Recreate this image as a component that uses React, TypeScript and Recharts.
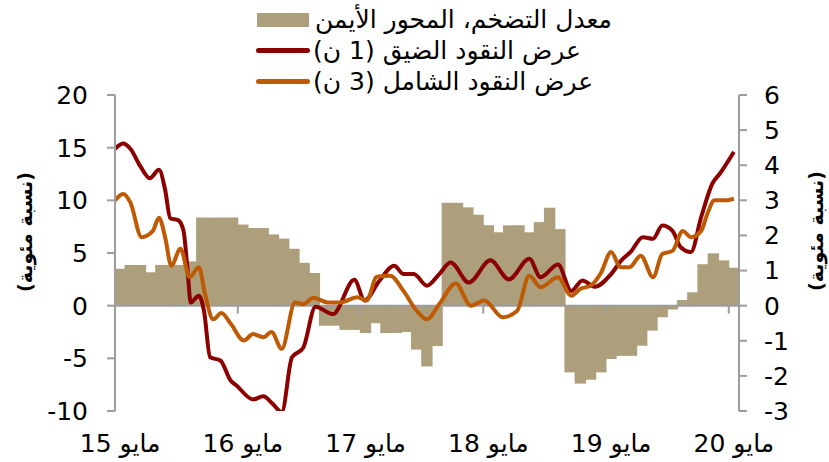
import React from 'react';
import { ComposedChart, Bar, Line, XAxis, YAxis, ReferenceLine } from 'recharts';

// Monthly categories, May 2015 .. May 2020
const months = [
  '2015-05', '2015-06', '2015-07', '2015-08', '2015-09', '2015-10', '2015-11', '2015-12',
  '2016-01', '2016-02', '2016-03', '2016-04', '2016-05', '2016-06', '2016-07', '2016-08', '2016-09', '2016-10', '2016-11', '2016-12',
  '2017-01', '2017-02', '2017-03', '2017-04', '2017-05', '2017-06', '2017-07', '2017-08', '2017-09', '2017-10', '2017-11', '2017-12',
  '2018-01', '2018-02', '2018-03', '2018-04', '2018-05', '2018-06', '2018-07', '2018-08', '2018-09', '2018-10', '2018-11', '2018-12',
  '2019-01', '2019-02', '2019-03', '2019-04', '2019-05', '2019-06', '2019-07', '2019-08', '2019-09', '2019-10', '2019-11', '2019-12',
  '2020-01', '2020-02', '2020-03', '2020-04', '2020-05',
];

// Inflation rate (right axis), one value per month
const inflation = [
  1.05, 1.16, 1.16, 0.95, 1.16, 1.16, 1.16, 1.26,
  2.51, 2.51, 2.51, 2.51, 2.31, 2.21, 2.21, 2.03, 1.91, 1.62, 1.22, 0.93,
  -0.57, -0.57, -0.69, -0.69, -0.78, -0.5, -0.78, -0.78, -0.75, -1.25, -1.73, -1.15,
  2.93, 2.93, 2.8, 2.59, 2.29, 2.09, 2.29, 2.29, 2.09, 2.38, 2.79, 2.18,
  -1.9, -2.22, -2.11, -1.9, -1.52, -1.43, -1.43, -1.14, -0.71, -0.33, -0.11, 0.16,
  0.38, 1.18, 1.49, 1.29, 1.08,
];

// Narrow money M1 (left axis): position in months since May 2015, value
const narrowMonths = [
  0, 0.8, 1.5, 2.5, 3.4, 4.3, 4.9, 5.4, 6.2, 6.7, 7.1, 7.4, 8.2, 8.7, 9.3, 10.3, 11.3, 11.9, 13.5, 14.5,
  15.4, 16.3, 17.3, 18.4, 19.6, 21.3, 23.4, 24.4, 25.8, 27.3, 28.2, 29.2, 30.5, 31.7, 32.8, 34.6, 36.7, 38.5,
  40.5, 41.6, 43.3, 44.6, 45.7, 46.9, 48.5, 49.5, 50.4, 51.6, 52.6, 53.5, 54.5, 55.3, 56.3, 57.3, 58.4, 59.1, 60.5,
];
const narrowValues = [
  14.9, 15.4, 14.9, 13.2, 12.1, 12.9, 11.0, 8.3, 8.1, 7.1, 3.3, 0.3, 0.95, -0.5, -4.9, -5.2, -7.1, -7.6, -8.9, -8.6,
  -9.3, -10.1, -4.9, -4.0, -0.1, -0.8, 2.45, 0.5, 2.3, 3.8, 3.0, 3.0, 1.9, 3.0, 4.1, 2.2, 4.3, 2.5,
  4.45, 2.7, 3.9, 1.4, 2.4, 1.8, 3.0, 4.3, 5.1, 6.5, 6.35, 7.6, 7.1, 5.55, 5.1, 8.4, 11.6, 12.5, 14.6,
];

// Broad money M3 (left axis)
const broadMonths = [
  0, 0.8, 1.5, 2.6, 3.7, 4.3, 4.9, 5.5, 6.4, 7.3, 8.2, 8.8, 9.6, 10.4, 11.3, 12.6, 13.5, 14.5, 15.3, 16.3,
  17.6, 18.4, 19.4, 20.8, 22.0, 23.7, 24.6, 25.6, 26.9, 28.2, 29.5, 30.5, 31.7, 33.3, 34.8, 36.1, 37.9, 39.3,
  40.5, 41.6, 43.3, 44.6, 45.5, 46.5, 47.5, 48.5, 49.4, 50.3, 51.4, 52.6, 53.5, 54.5, 55.5, 56.3, 57.3, 57.9,
  58.6, 59.6, 60.5,
];
const broadValues = [
  10.0, 10.6, 9.8, 6.5, 7.1, 8.35, 6.5, 3.8, 5.4, 2.7, 3.65, 1.1, -1.3, -0.7, -1.7, -3.3, -2.7, -3.0, -2.5, -4.1,
  0.3, 0.15, 0.75, 0.3, 0.3, 0.8, 0.5, 2.75, 2.85, 1.4, -0.5, -1.3, 0.15, 2.1, 0.0, 0.5, -1.1, -0.5,
  2.85, 1.75, 2.7, 0.95, 1.6, 1.9, 3.1, 5.1, 3.65, 3.65, 4.75, 2.7, 4.9, 5.2, 7.1, 6.5, 7.1, 8.7,
  10.0, 10.0, 10.15,
];

const tickMonths = ['2015-05', '2016-05', '2017-05', '2018-05', '2019-05', '2020-05'];
const tickLabels = ['مايو 15', 'مايو 16', 'مايو 17', 'مايو 18', 'مايو 19', 'مايو 20'];
const leftTicks = [-10, -5, 0, 5, 10, 15, 20];
const rightTicks = [-3, -2, -1, 0, 1, 2, 3, 4, 5, 6];

const legendBar = 'معدل التضخم، المحور الأيمن';
const legendNarrow = 'عرض النقود الضيق (1 ن)';
const legendBroad = 'عرض النقود الشامل (3 ن)';
const axisTitle = '(نسبة مئوية)';

const FONT = '"DejaVu Sans", "Liberation Sans", Arial, sans-serif';
const AXIS = '#9d9d9d';
const BAR = '#ad9f7b';
const RED = '#8c0000';
const ORANGE = '#bf5a04';

// Bar shape that closes the sub-pixel seams between adjacent monthly bars
const SeamlessBar = (props: any) => {
  const { x, y, width, height } = props;
  if (x == null || y == null || !width || !height) return null;
  const top = Math.min(y, y + height);
  const h = Math.abs(height);
  return <rect x={x - 0.7} y={top} width={width + 1.4} height={h} fill={BAR} />;
};

export default function App() {
  const data = months.map((month, i) => ({ month, inflation: inflation[i] }));
  const narrow = narrowMonths.map((m, i) => ({ m, v: narrowValues[i] }));
  const broad = broadMonths.map((m, i) => ({ m, v: broadValues[i] }));
  const boundaryTicks = tickMonths.map((t) => months.indexOf(t)).filter((i) => i > 0);

  const tickStyle = { fill: '#000', fontSize: 25, fontFamily: FONT };

  return (
    <div style={{ position: 'absolute', left: 0, top: 0, width: 829, height: 462, background: '#fff', fontFamily: FONT }}>
      <ComposedChart
        width={829}
        height={462}
        data={data}
        margin={{ top: 95, right: 0, bottom: 0, left: 0 }}
        barCategoryGap={0}
        barGap={0}
      >
        <XAxis
          xAxisId="cat"
          dataKey="month"
          type="category"
          ticks={tickMonths}
          interval={0}
          tickFormatter={(v: string) => tickLabels[tickMonths.indexOf(v)]}
          axisLine={false}
          tickLine={false}
          tickSize={0}
          tickMargin={23}
          height={51}
          tick={tickStyle}
        />
        <XAxis xAxisId="num" type="number" dataKey="m" domain={[0, 61]} hide allowDataOverflow />
        <YAxis
          yAxisId="left"
          domain={[-10, 20]}
          ticks={leftTicks}
          interval={0}
          width={115}
          axisLine={{ stroke: AXIS, strokeWidth: 2 }}
          tickLine={{ stroke: AXIS, strokeWidth: 2 }}
          tickSize={8}
          tickMargin={19}
          tick={tickStyle}
          allowDataOverflow
        />
        <YAxis
          yAxisId="right"
          orientation="right"
          domain={[-3, 6]}
          ticks={rightTicks}
          interval={0}
          width={90}
          axisLine={{ stroke: AXIS, strokeWidth: 2 }}
          tickLine={{ stroke: AXIS, strokeWidth: 2 }}
          tickSize={8}
          tickMargin={17}
          tick={tickStyle}
          allowDataOverflow
        />
        <Bar xAxisId="cat" yAxisId="right" dataKey="inflation" fill={BAR} shape={SeamlessBar} isAnimationActive={false} />
        <ReferenceLine xAxisId="num" yAxisId="left" y={0} stroke={AXIS} strokeWidth={2} />
        {boundaryTicks.map((t) => (
          <ReferenceLine
            key={t}
            xAxisId="num"
            yAxisId="left"
            segment={[{ x: t, y: 0 }, { x: t, y: -0.75 }]}
            stroke={AXIS}
            strokeWidth={2}
          />
        ))}
        <Line
          xAxisId="num"
          yAxisId="left"
          data={narrow}
          dataKey="v"
          type="monotone"
          stroke={RED}
          strokeWidth={4}
          dot={false}
          activeDot={false}
          isAnimationActive={false}
        />
        <Line
          xAxisId="num"
          yAxisId="left"
          data={broad}
          dataKey="v"
          type="monotone"
          stroke={ORANGE}
          strokeWidth={4}
          dot={false}
          activeDot={false}
          isAnimationActive={false}
        />
      </ComposedChart>

      <svg width={829} height={462} style={{ position: 'absolute', left: 0, top: 0, pointerEvents: 'none' }}>
        <text transform="translate(25,232) rotate(-90)" textAnchor="middle" dominantBaseline="central" fontWeight="bold" fontSize={19} fontFamily={FONT} fill="#000">
          {axisTitle}
        </text>
        <text transform="translate(816,231) rotate(-90)" textAnchor="middle" dominantBaseline="central" fontWeight="bold" fontSize={19} fontFamily={FONT} fill="#000">
          {axisTitle}
        </text>
      </svg>

      <div style={{ position: 'absolute', left: 256, top: 4, fontSize: 25, color: '#000', lineHeight: '31px' }}>
        <div style={{ display: 'flex', alignItems: 'center', height: 31 }}>
          <div style={{ width: 54, display: 'flex', justifyContent: 'center' }}>
            <div style={{ width: 52, height: 14, background: BAR }} />
          </div>
          <span dir="rtl" style={{ marginLeft: 5, whiteSpace: 'nowrap' }}>{legendBar}</span>
        </div>
        <div style={{ display: 'flex', alignItems: 'center', height: 31 }}>
          <div style={{ width: 54, height: 5, borderRadius: 3, background: RED }} />
          <span dir="rtl" style={{ marginLeft: 3, whiteSpace: 'nowrap' }}>{legendNarrow}</span>
        </div>
        <div style={{ display: 'flex', alignItems: 'center', height: 31 }}>
          <div style={{ width: 54, height: 5, borderRadius: 3, background: ORANGE }} />
          <span dir="rtl" style={{ marginLeft: 3, whiteSpace: 'nowrap' }}>{legendBroad}</span>
        </div>
      </div>
    </div>
  );
}
